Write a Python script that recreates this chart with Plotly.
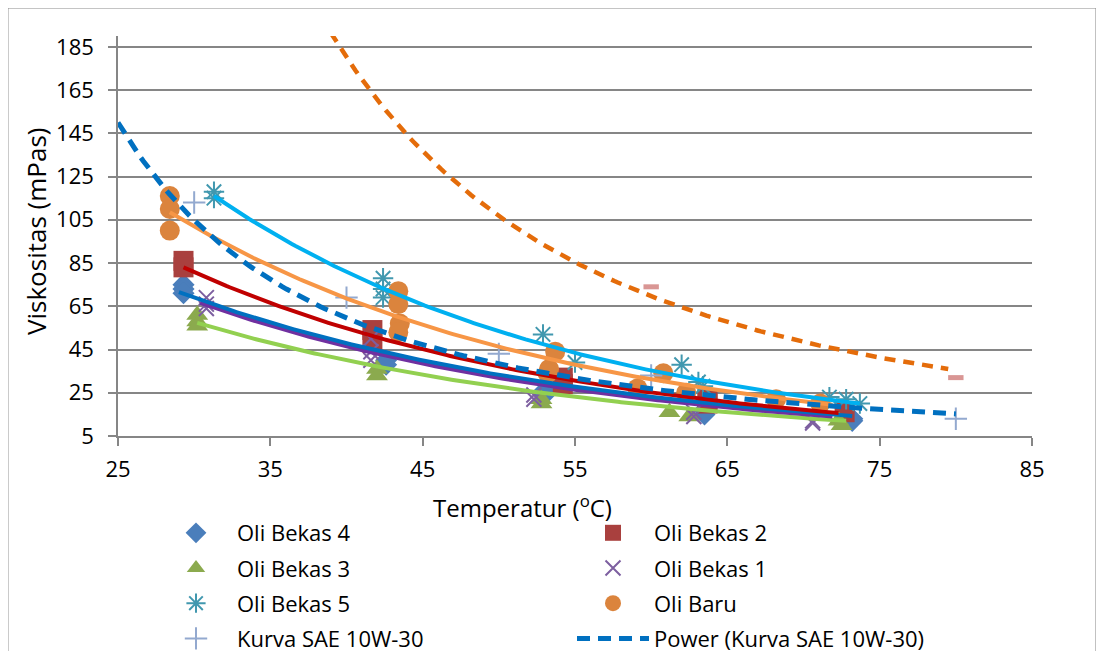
import numpy as np
import plotly.graph_objects as go

# ---------------- data ----------------
bekas4_t = [29.3, 29.3, 29.3, 42.6, 42.6, 53.0, 53.0, 63.5, 63.5, 73.2, 73.2]
bekas4_v = [75, 73, 71, 40, 38, 26, 24, 17, 15, 13, 12]

bekas2_t = [29.3, 29.3, 41.7, 41.7, 54.2, 54.2, 63.7, 63.7, 72.7]
bekas2_v = [86, 83, 54, 48, 32, 29, 22, 20, 16]

bekas3_t = [30.2, 30.2, 30.2, 42.0, 42.0, 52.8, 52.8, 61.2, 62.5, 72.3, 72.5]
bekas3_v = [61, 58, 56, 36, 33, 22, 20, 16, 14, 12, 10]

bekas1_t = [30.8, 30.8, 30.8, 41.6, 41.6, 41.6, 52.3, 52.3, 62.8, 62.8, 70.6, 70.6]
bekas1_v = [69, 66, 64, 50, 44, 40, 24, 22, 16, 14, 12, 11]

bekas5_t = [31.3, 31.3, 42.4, 42.4, 42.4, 52.9, 55.0, 62.0, 63.1, 63.4, 71.7, 72.8, 73.7]
bekas5_v = [118, 115, 78, 73, 69, 52, 39, 38, 30, 28, 23, 22, 20]

baru_t = [28.4, 28.4, 28.4, 43.4, 43.4, 43.5, 43.4, 53.7, 53.3, 53.2, 60.8, 59.1, 62.3, 68.2, 71.1]
baru_v = [116, 110, 100, 72, 66, 57, 53, 44, 36, 34, 34, 27, 25, 22, 20]

sae_t = [30, 40, 50, 60, 80]
sae_v = [113, 69, 43, 33, 13]

other_t = [60, 80]
other_v = [74, 32]

# trendline end points: (t_start, v_start, t_end, v_end)
trend_bekas5 = (31.3, 116, 73.7, 20.0)
trend_baru = (28.4, 108.5, 71.9, 19.5)
trend_bekas2 = (29.3, 83, 72.3, 15.6)
trend_bekas4 = (29.0, 71.5, 73.2, 14.3)
trend_bekas1 = (30.4, 66.6, 71.9, 14.0)
trend_bekas3 = (30.2, 57.3, 72.8, 12.0)
trend_sae = (25, 150, 80, 15.2)       # power trendline
trend_other = (39.1, 190, 79.5, 36)   # power trendline
other_trend_start = 35

x_ticks = [25, 35, 45, 55, 65, 75, 85]
y_ticks = [5, 25, 45, 65, 85, 105, 125, 145, 165, 185]

FONT = "'Open Sans', sans-serif"


def power_line(spec, lo=None, hi=None):
    t0, v0, t1, v1 = spec
    b = np.log(v1 / v0) / np.log(t1 / t0)
    a = v0 / t0 ** b
    xs = np.linspace(t0 if lo is None else lo, t1 if hi is None else hi, 200)
    return xs, a * xs ** b


def expo_line(spec):
    t0, v0, t1, v1 = spec
    k = np.log(v1 / v0) / (t1 - t0)
    xs = np.linspace(t0, t1, 200)
    return xs, v0 * np.exp(k * (xs - t0))


fig = go.Figure()

# ---------------- marker series ----------------
series = [
    ("Oli Bekas 4", bekas4_t, bekas4_v, "diamond", 17, "#4A7EBB", 0, "legend", 1),
    ("Oli Bekas 2", bekas2_t, bekas2_v, "square", 20, "#A9403E", 0, "legend2", 1),
    ("Oli Bekas 3", bekas3_t, bekas3_v, "triangle-up", 19, "#8BAA4E", 0, "legend", 2),
    ("Oli Bekas 1", bekas1_t, bekas1_v, "x-thin-open", 15, "#7D5FA0", 2, "legend2", 2),
    ("Oli Bekas 5", bekas5_t, bekas5_v, "asterisk-open", 17, "#4198AF", 2, "legend", 3),
    ("Oli Baru", baru_t, baru_v, "circle", 20, "#DB843D", 0, "legend2", 3),
    ("Kurva SAE 10W-30", sae_t, sae_v, "cross-thin-open", 16, "#93A9CF", 2, "legend", 4),
]
for i, (name, t, v, sym, size, col, lw, leg, rank) in enumerate(series):
    marker = dict(symbol=sym, size=size, color=col,
                  line=dict(color=col, width=lw) if lw else dict(width=0))
    fig.add_trace(go.Scatter(
        x=t, y=v, mode="markers", name=name, marker=marker,
        legend=leg, legendgroup=f"g{i}", legendrank=rank, showlegend=True,
    ))

fig.add_trace(go.Scatter(
    x=other_t, y=other_v, mode="markers", showlegend=False,
    marker=dict(symbol="line-ew-open", size=11, color="#D99694",
                line=dict(color="#D99694", width=5)),
))

# ---------------- solid trendlines ----------------
for spec, col in [
    (trend_bekas3, "#92D050"),
    (trend_bekas1, "#7030A0"),
    (trend_bekas4, "#0070C0"),
    (trend_bekas2, "#C00000"),
    (trend_baru, "#F79646"),
    (trend_bekas5, "#00B0F0"),
]:
    xs, ys = expo_line(spec)
    fig.add_trace(go.Scatter(x=xs, y=ys, mode="lines", showlegend=False,
                             line=dict(color=col, width=4)))

# dashed trendlines
xs, ys = power_line(trend_other, lo=other_trend_start)
fig.add_trace(go.Scatter(x=xs, y=ys, mode="lines", showlegend=False,
                         line=dict(color="#E46C0A", width=4.5, dash="11px,8px")))

xs, ys = power_line(trend_sae)
fig.add_trace(go.Scatter(x=xs, y=ys, mode="lines", name="Power (Kurva SAE 10W-30)",
                         legend="legend2", legendgroup="g_pow", legendrank=4,
                         line=dict(color="#0070C0", width=5, dash="13px,8px")))

axis_col = "#868686"
fig.update_xaxes(
    range=[25, 85], tickvals=x_ticks, ticktext=[str(t) for t in x_ticks],
    showgrid=False, zeroline=False, showline=True, linecolor=axis_col, linewidth=1.5,
    ticks="outside", ticklen=8, tickcolor=axis_col, tickwidth=1.5,
    tickfont=dict(family=FONT, size=22, color="#000"), ticklabelstandoff=5,
)
fig.update_yaxes(
    range=[5, 190], tickvals=y_ticks, ticktext=[str(t) for t in y_ticks],
    showgrid=True, gridcolor=axis_col, gridwidth=1.5, zeroline=False,
    showline=True, linecolor=axis_col, linewidth=1.5,
    ticks="outside", ticklen=8, tickcolor=axis_col, tickwidth=1.5,
    tickfont=dict(family=FONT, size=22, color="#000"), ticklabelstandoff=10,
)

legend_common = dict(
    orientation="v", xanchor="left", yanchor="top", bgcolor="rgba(0,0,0,0)",
    font=dict(family=FONT, size=22, color="#000"), tracegroupgap=3.6, itemwidth=72,
)
leg_top = (436 - 512) / 400
fig.update_layout(
    width=1104, height=651, autosize=False,
    margin=dict(l=110, r=80, t=28, b=223, autoexpand=False),
    plot_bgcolor="white", paper_bgcolor="white",
    legend=dict(x=(147 - 110) / 914, y=leg_top, **legend_common),
    legend2=dict(x=(564 - 110) / 914, y=leg_top, **legend_common),
    shapes=[dict(type="rect", xref="paper", yref="paper",
                 x0=-0.1204, x1=1.070, y0=-0.6, y1=1.07,
                 line=dict(color="#8A8A8A", width=1), layer="below")],
    annotations=[
        dict(text="Temperatur (<sup>o</sup>C)", xref="paper", yref="paper",
             x=(522 - 118) / 914, y=(436 - 506) / 400, xanchor="center", yanchor="middle",
             showarrow=False, font=dict(family=FONT, size=24, color="#000")),
        dict(text="Viskositas (mPas)", xref="paper", yref="paper", textangle=-90,
             x=(36 - 118) / 914, y=(436 - 232) / 400, xanchor="center", yanchor="middle",
             showarrow=False, font=dict(family=FONT, size=26, color="#000")),
    ],
)

fig.write_html("out.html")
